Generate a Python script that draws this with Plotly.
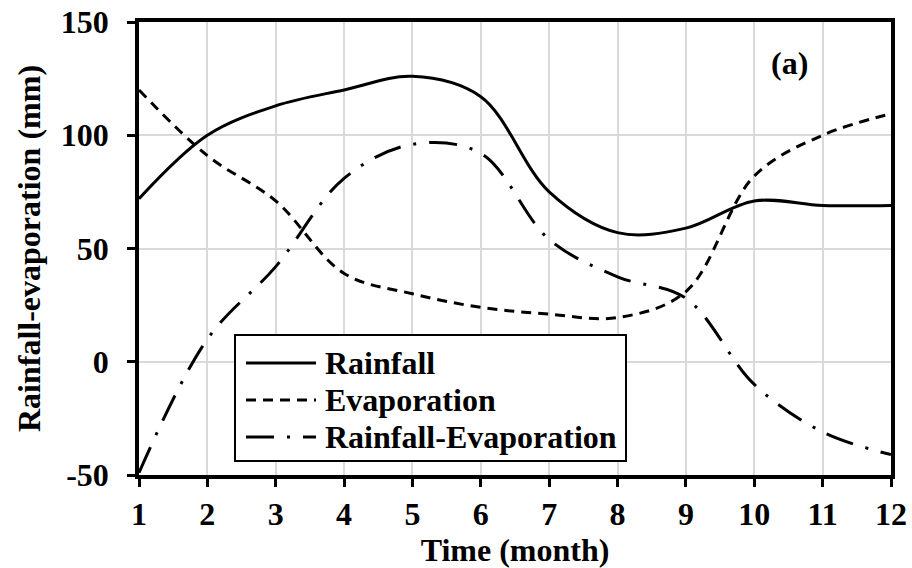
import plotly.graph_objects as go

# Monthly values (mm)
months = [1, 2, 3, 4, 5, 6, 7, 8, 9, 10, 11, 12]
rainfall = [72, 100, 113, 120, 126, 117, 75, 57, 59, 71, 69, 69]
evaporation = [120, 91, 71, 39, 30, 24, 21, 19.5, 31, 82, 100, 109.5]
rain_minus_evap = [-49, 10, 42, 81, 96, 92, 54, 37.5, 28, -10, -31, -41]

series_names = ["Rainfall", "Evaporation", "Rainfall-Evaporation"]
series_values = [rainfall, evaporation, rain_minus_evap]
series_dash = ["solid", "10px,7px", "28px,13px,3px,13px"]

x_ticks = list(range(1, 13))
y_ticks = [-50, 0, 50, 100, 150]

FONT = "Liberation Serif"
fs = 32
bold = dict(family=FONT, size=fs, color="black", weight="bold")

# plot area in pixels (used to place the framed key in paper units)
L, R, T, B = 139, 891, 22, 475
W, H = R - L, B - T


def px(xp):
    return (xp - L) / W


def py(yp):
    return (B - yp) / H


fig = go.Figure()
for name, vals, dash in zip(series_names, series_values, series_dash):
    fig.add_trace(go.Scatter(
        x=months, y=vals, name=name, mode="lines", showlegend=False,
        line=dict(color="black", width=3, shape="spline", smoothing=1, dash=dash),
    ))

# framed key: box, line samples and labels
shapes = [dict(type="rect", xref="paper", yref="paper",
               x0=px(235), x1=px(626), y0=py(461), y1=py(335),
               line=dict(color="black", width=2), fillcolor="white", layer="above")]
annotations = []
row_y = [363, 400, 437]
for name, dash, yp in zip(series_names, series_dash, row_y):
    shapes.append(dict(type="line", xref="paper", yref="paper",
                       x0=px(246), x1=px(316), y0=py(yp), y1=py(yp),
                       line=dict(color="black", width=3, dash=dash), layer="above"))
    annotations.append(dict(text=name, x=px(323), y=py(yp), xref="paper", yref="paper",
                            xanchor="left", yanchor="middle", showarrow=False, font=bold))

annotations.append(dict(text="(a)", x=px(789), y=py(63), xref="paper", yref="paper",
                        xanchor="center", yanchor="middle", showarrow=False, font=bold))

fig.update_layout(
    template="none",
    width=912, height=568,
    margin=dict(l=L, r=912 - R, t=T, b=568 - B, pad=0),
    paper_bgcolor="white", plot_bgcolor="white",
    font=bold,
    showlegend=False,
    shapes=shapes,
    annotations=annotations,
)

fig.update_xaxes(
    range=[1, 12], tickvals=x_ticks, ticktext=[str(v) for v in x_ticks],
    automargin=False,
    showgrid=True, gridcolor="#d9d9d9", gridwidth=1.5,
    showline=True, linecolor="black", linewidth=3.5, mirror=True,
    ticks="outside", ticklen=8, tickwidth=3, tickcolor="black",
    ticklabelstandoff=0,
    zeroline=False,
    title=dict(text="Time (month)", font=bold),
)
fig.update_yaxes(
    range=[-50, 150], tickvals=y_ticks, ticktext=[str(v) for v in y_ticks],
    automargin="left",
    showgrid=True, gridcolor="#d9d9d9", gridwidth=1.5,
    showline=True, linecolor="black", linewidth=3.5, mirror=True,
    ticks="outside", ticklen=8, tickwidth=3, tickcolor="black",
    ticklabelstandoff=12,
    zeroline=False,
    title=dict(text="Rainfall-evaporation (mm)", standoff=12, font=bold),
)

fig.write_html("out.html")
